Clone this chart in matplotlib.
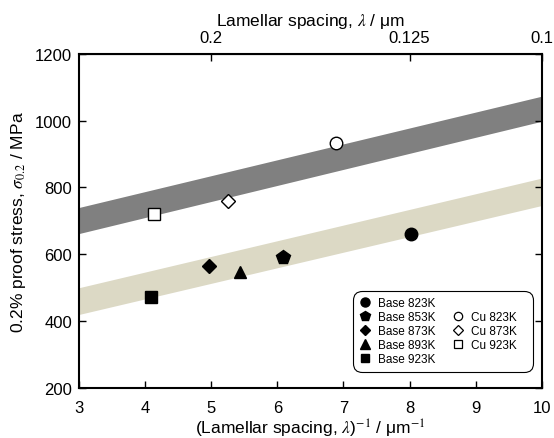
import matplotlib
matplotlib.use("Agg")
import matplotlib.pyplot as plt
from matplotlib.lines import Line2D

plt.rcParams['font.family'] = ['Liberation Sans', 'DejaVu Sans']
plt.rcParams['mathtext.fontset'] = 'stix'

# 数据
base_labels = ['Base 823K', 'Base 853K', 'Base 873K', 'Base 893K', 'Base 923K']
base_x = [8.02, 6.08, 4.97, 5.44, 4.09]
base_y = [660, 592, 565, 546, 471]
base_markers = ['o', 'p', 'D', '^', 's']

cu_labels = ['Cu 823K', 'Cu 873K', 'Cu 923K']
cu_x = [6.88, 5.26, 4.13]
cu_y = [932, 758, 719]
cu_markers = ['o', 'D', 's']

# 带状区域 (x=3 与 x=10 处的上下界)
band_x = [3, 10]
cu_band_lo = [662, 998]
cu_band_hi = [740, 1073]
base_band_lo = [420, 746]
base_band_hi = [500, 828]

top_ticks = [0.2, 0.125, 0.1]
top_labels = ['0.2', '0.125', '0.1']

msize = {'o': 9, 'p': 10, 'D': 7, '^': 8.5, 's': 8.5}

fig = plt.figure(figsize=(5.54, 4.39), dpi=100)
ax = fig.add_axes([0.1426, 0.1139, 0.8354, 0.7615])

ax.fill_between(band_x, cu_band_lo, cu_band_hi, color='#808080', lw=0)
ax.fill_between(band_x, base_band_lo, base_band_hi, color='#dcd9c5', lw=0)

for x, y, m in zip(base_x, base_y, base_markers):
    ax.plot(x, y, m, color='k', ms=msize[m], ls='none')

for x, y, m in zip(cu_x, cu_y, cu_markers):
    ax.plot(x, y, m, mfc='white', mec='k', ms=msize[m], mew=1.0, ls='none')

# 图例用的小标记
lms = {'o': 6.5, 'p': 7, 'D': 5.5, '^': 6.5, 's': 6}
h_base = [Line2D([], [], ls='none', marker=m, color='k', ms=lms[m])
          for m in base_markers]
h_cu = [Line2D([], [], ls='none', marker=m, mfc='white', mec='k',
               ms=lms[m] - 0.5, mew=0.9) for m in cu_markers]
blank = Line2D([], [], ls='none', marker='none')
leg = ax.legend(h_base + [blank] + h_cu + [blank],
                base_labels + [''] + [s + '   ' for s in cu_labels] + [''],
                ncol=2, loc='lower right', bbox_to_anchor=(0.981, 0.048),
                borderaxespad=0, fontsize=8.5, frameon=True, fancybox=True,
                edgecolor='k', framealpha=1, handlelength=1.0,
                handletextpad=0.6, columnspacing=1.4, labelspacing=0.17,
                borderpad=0.55)
leg.get_frame().set_linewidth(0.8)
leg.get_frame().set_boxstyle('round,pad=0,rounding_size=0.8')

ax.set_xlim(3, 10)
ax.set_ylim(200, 1200)
ax.set_xticks(range(3, 11))
ax.set_yticks(range(200, 1201, 200))
ax.tick_params(direction='in', labelsize=12, width=1, length=5, right=True)
ax.tick_params(axis='x', pad=9)
ax.tick_params(axis='y', pad=5)
for s in ax.spines.values():
    s.set_linewidth(1.5)

ax.set_xlabel(r'(Lamellar spacing, $\lambda$)$^{-1}$ / μm$^{-1}$', fontsize=12.5, labelpad=1)
ax.set_ylabel(r'0.2% proof stress, $\sigma_{0.2}$ / MPa', fontsize=12.5, labelpad=5)

sec = ax.secondary_xaxis('top', functions=(lambda v: 1 / v, lambda v: 1 / v))
sec.set_xticks(top_ticks)
sec.set_xticklabels(top_labels)
sec.tick_params(direction='in', labelsize=12, width=1, length=5, pad=6)
sec.set_xlabel(r'Lamellar spacing, $\lambda$ / μm', fontsize=12.5, labelpad=4)

fig.savefig('out.png', dpi=100)
